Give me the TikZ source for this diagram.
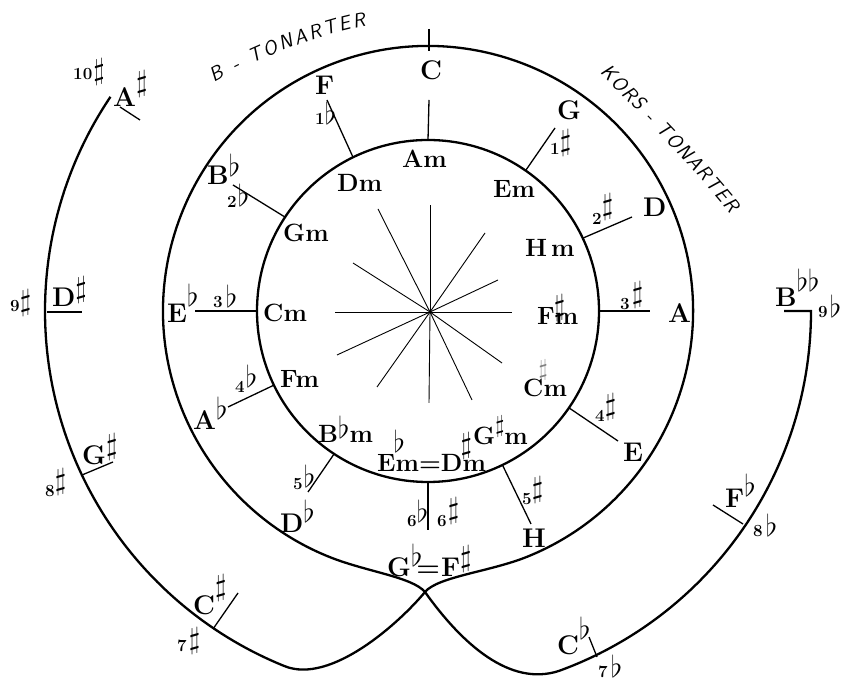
\documentclass[tikz,border=0pt]{standalone}
\usepackage{fix-cm}
\usetikzlibrary{decorations.text}
\newcommand{\acc}[3][30]{\raisebox{#3}{\fontsize{#1}{#1}\selectfont$#2$}}
\newcommand{\oacc}[4][30]{\rlap{\hspace{#4}\acc[#1]{#2}{#3}}}
\begin{document}
\begin{tikzpicture}[x=1pt,y=1pt,
  ring/.style={line width=2.3pt},
  link/.style={line width=1.3pt},
  spoke/.style={line width=0.9pt},
  lbl/.style={inner sep=0pt, anchor=base west},
  maj/.style={lbl, font=\fontsize{27}{27}\selectfont\bfseries},
  mnr/.style={lbl, font=\fontsize{25}{25}\selectfont\bfseries},
  cnt/.style={lbl, font=\fontsize{17}{17}\selectfont\bfseries},
  arctext/.style={decorate, decoration={text along path, text align={fit to path},
     text={|\sffamily\slshape\fontsize{20}{20}\selectfont|#1}}}]
\useasboundingbox (0,0) rectangle (848,679);
\coordinate (O) at (428,368);
\coordinate (S) at (430,367);
\coordinate (X) at (425,87);

% inner circle of minor keys
\draw[ring] (O) circle[radius=171];

% the spiral of major keys
\draw[ring] (O) ++(146:383) arc[start angle=146,end angle=248,radius=383]
 .. controls (330.8,-5.9) and (399.4,56.2) .. (X)
 .. controls (437.8,102.4) and (490.2,107.3) .. (527.3,122.3)
 arc[start angle=292,end angle=608,radius=265]
 .. controls (365.8,107.3) and (412,102.2) .. (X)
 .. controls (462,35) and (510,-8) .. (559,8.1)
 arc[start angle=290,end angle=360,radius=383]
 -- ++(-27,0);

% tick at C
\draw[link] (429,650) -- (429,628);

% spokes
\foreach \p in {(430,474),(485,446),(498,399),(512,367),(502,316),(472,279),(429,276),(377,292),(337,324),(335,367),(353,416),(378,470)}
  \draw[spoke] (S) -- \p;

% links minor -> major
\draw[link] (O) ++(90:171) -- (429,579);
\draw[link] (O) ++(116:171) -- (327,579);
\draw[link] (O) ++(55.2:171) -- (555,551);
\draw[link] (O) ++(25.2:171) -- (632,462);
\draw[link] (O) ++(0:171) -- (650,368);
\draw[link] (O) ++(-34.5:171) -- (618,238);
\draw[link] (O) ++(-64.2:171) -- (531,155);
\draw[link] (O) ++(-90:171) -- (428,149);
\draw[link] (O) ++(236.7:171) -- (308,187);
\draw[link] (O) ++(205.7:171) -- (228,272);
\draw[link] (O) ++(180:171) -- (195,368);
\draw[link] (O) ++(146.7:171) -- (233,494);

% outer ticks
\draw[link] (120,572) -- (140,559);
\draw[link] (47,367) -- (82,367);
\draw[link] (82,204) -- (113,217);
\draw[link] (213,50) -- (238,86);
\draw[link] (597,22) -- (589,42);
\draw[link] (743,155) -- (713,174);

% major keys
\node[maj] (kC) at (420,599) {C};
\node[maj] (kG) at (557,559) {G};
\node[maj] (kD) at (643,462) {D};
\node[maj] (kA) at (668,356) {A};
\node[maj] (kE) at (623,217) {E};
\node[maj] (kH) at (522,131) {H};
\node[maj] (kGb) at (387,102) {G\acc{\flat}{10pt}\hspace{-6pt}=\hspace{1pt}F\acc{\sharp}{10.5pt}};
\node[maj] (kF) at (315,584) {F};
\node[maj] (kBb) at (207,494) {B\acc{\flat}{8pt}};
\node[maj] (kEb) at (167,356) {E\acc{\flat}{16pt}};
\node[maj] (kAb) at (193,249) {A\acc{\flat}{10pt}};
\node[maj] (kDb) at (280,146) {D\acc{\flat}{10pt}};

% counts
\node[cnt] (n1s) at (550,524) {1\acc{\sharp}{4.5pt}};
\node[cnt] (n2s) at (592,454) {2\acc{\sharp}{10.5pt}};
\node[cnt] (n3s) at (620,369) {3\hspace{2pt}\acc{\sharp}{7.5pt}};
\node[cnt] (n4s) at (595,257) {4\acc{\sharp}{7.5pt}};
\node[cnt] (n5s) at (522,174) {5\acc{\sharp}{7.5pt}};
\node[cnt] (n6s) at (437,152) {6\hspace{1pt}\acc{\sharp}{8.5pt}};
\node[cnt] (n6b) at (407,152) {6\acc{\flat}{4pt}};
\node[cnt] (n5b) at (293,189) {5\hspace{1pt}\acc{\flat}{2pt}};
\node[cnt] (n4b) at (235,286) {4\hspace{1pt}\acc{\flat}{5pt}};
\node[cnt] (n3b) at (213,371) {3\hspace{3pt}\acc{\flat}{0pt}};
\node[cnt] (n2b) at (227,471) {2\hspace{1pt}\acc{\flat}{1pt}};
\node[cnt] (n1b) at (315,554) {1\acc{\flat}{0pt}};

% outer keys
\node[cnt] (n10s) at (73,599) {10\hspace{1pt}\acc{\sharp}{0.5pt}};
\node[maj] (oAs) at (113,572) {A\acc{\sharp}{15.5pt}};
\node[cnt] (n9s) at (10,367) {9\acc{\sharp}{1.5pt}};
\node[maj] (oDs) at (52,372) {D\acc{\sharp}{9.5pt}};
\node[cnt] (n8s) at (45,182) {8\acc{\sharp}{7.5pt}};
\node[maj] (oGs) at (82,214) {G\acc{\sharp}{10.5pt}};
\node[cnt] (n7s) at (177,27) {7\hspace{2pt}\acc{\sharp}{3.5pt}};
\node[maj] (oCs) at (193,64) {C\acc{\sharp}{19.5pt}};
\node[maj] (oCb) at (557,24) {C\acc{\flat}{15pt}};
\node[cnt] (n7b) at (598,1) {7\hspace{3pt}\acc{\flat}{0pt}};
\node[maj] (oFb) at (725,171) {F\acc{\flat}{11pt}};
\node[cnt] (n8b) at (753,142) {8\hspace{3pt}\acc{\flat}{0pt}};
\node[maj] (oBbb) at (775,372) {B\acc{\flat\flat}{15pt}};
\node[cnt] (n9b) at (818,361) {9\hspace{2pt}\acc{\flat}{0pt}};

% minor keys
\node[mnr] (mA) at (402,511) {Am};
\node[mnr] (mD) at (337,487) {Dm};
\node[mnr] (mE) at (493,481) {Em};
\node[mnr] (mG) at (283,437) {Gm};
\node[mnr] (mH) at (525,422) {H\hspace{4pt}m};
\node[mnr] (mC) at (263,357) {Cm};
\node[mnr] (mFs) at (537,354) {F\oacc{\sharp}{9pt}{-1pt}m};
\node[mnr] (mF) at (280,291) {Fm};
\node[mnr] (mCs) at (523,282) {C\rlap{\hspace{-5pt}\textcolor{gray}{\acc[24]{\sharp}{20pt}}}m};
\node[mnr] (mBb) at (318,236) {B\acc{\flat}{4pt}m};
\node[mnr] (mGs) at (473,234) {G\acc[24]{\sharp}{12pt}m};
\node[mnr] (mEb) at (377,207) {E\oacc{\flat}{19pt}{-2pt}m=D\oacc{\sharp}{18pt}{-2pt}m};

% curved captions
\path[arctext={B - TONARTER}] (214,596) .. controls (255,620) and (320,645) .. (366,653);
\path[arctext={KORS - TONARTER}] (599.5,606.4) .. controls (640,565) and (690,515) .. (729.7,465.5);
\end{tikzpicture}
\end{document}
